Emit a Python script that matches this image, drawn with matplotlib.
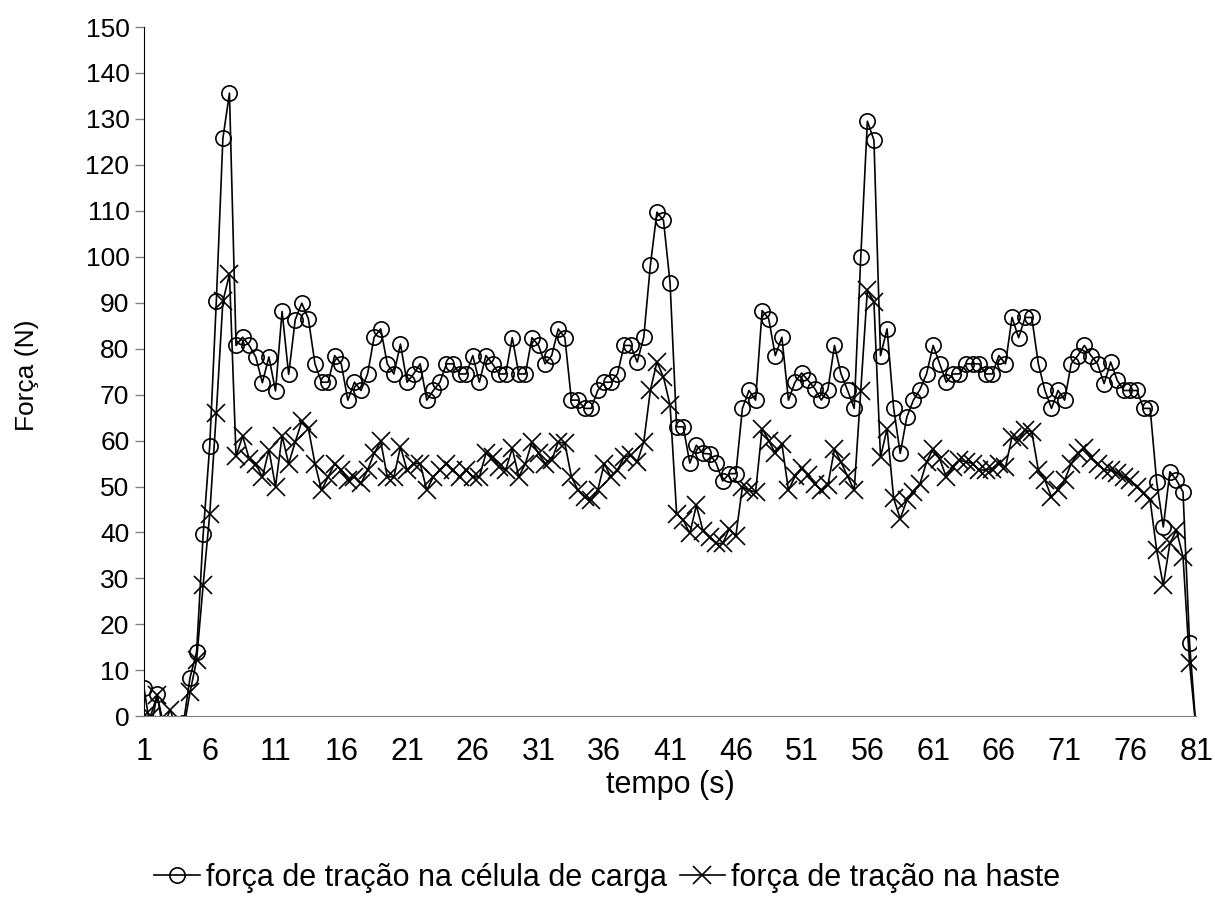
import matplotlib.pyplot as plt
import numpy as np

plt.rcParams['font.family'] = ['Liberation Sans', 'DejaVu Sans']

# tempo (s): 1 to 81 in steps of 0.5 s, shown on a category axis
tempo = [1 + 0.5 * k for k in range(161)]

# força de tração na célula de carga (N)
celula = [6.2, -3, 4.75, -4, -5, -4, -1.5, 8.4, 14, 39.6,
          58.9, 90.3, 125.8, 135.6, 80.7, 82.5, 80.7, 78.2, 72.6, 78.2,
          70.8, 88.1, 74.4, 86.3, 89.9, 86.5, 76.7, 72.7, 72.7, 78.5,
          76.7, 68.8, 72.7, 70.9, 74.5, 82.5, 84.3, 76.7, 74.5, 81,
          72.7, 74.5, 76.7, 68.8, 70.9, 72.7, 76.7, 76.7, 74.5, 74.5,
          78.5, 72.7, 78.5, 76.7, 74.5, 74.5, 82.4, 74.5, 74.5, 82.4,
          80.7, 76.7, 78.5, 84.3, 82.4, 68.8, 68.8, 67, 67, 70.9,
          72.7, 72.7, 74.5, 80.7, 80.7, 77.1, 82.5, 98.1, 109.7, 107.9,
          94.3, 63, 63, 55.1, 59, 57.2, 57.1, 55.1, 51.2, 52.8,
          52.8, 67, 70.9, 68.8, 88.3, 86.5, 78.5, 82.5, 68.8, 72.7,
          74.7, 73.1, 71.3, 68.8, 71.1, 80.7, 74.5, 70.9, 67, 100,
          129.5, 125.4, 78.5, 84.3, 67, 57.2, 65.1, 68.8, 71.1, 74.5,
          80.7, 76.7, 72.7, 74.5, 74.5, 76.7, 76.7, 76.7, 74.5, 74.5,
          78.5, 76.7, 86.8, 82.4, 86.8, 86.8, 76.7, 70.9, 67, 70.9,
          68.8, 76.7, 78.5, 80.7, 78.5, 76.7, 72.4, 77.1, 73.1, 70.9,
          70.9, 70.9, 67, 67, 51, 41.2, 53.2, 51.4, 48.8, 15.9,
          -3]

# força de tração na haste (N)
haste = [0, 0, 4.6, -2, 1.4, -3, -3, 5.2, 12.2, 28.6,
         44, 66, 90.3, 96.2, 56.6, 61, 56, 55, 52, 58,
         50, 61, 55, 59.7, 64.2, 62.6, 55, 49.2, 52.1, 55,
         53.6, 51.4, 52.1, 50.7, 53.6, 57.2, 59.8, 52.1, 52.1, 58.6,
         53.6, 55, 55, 49.2, 52.1, 53.6, 55, 53.6, 52.1, 53.6,
         52.1, 52.1, 57.2, 56.4, 54.3, 53.6, 58.3, 52.1, 55, 59.7,
         57.2, 55, 55.7, 59.7, 59.4, 52.1, 49.2, 47.7, 47, 49.2,
         55, 52.1, 53.6, 56.4, 56.8, 55.3, 59.7, 70.9, 77.1, 73.8,
         67.7, 44.1, 42.7, 39.8, 45.9, 40.4, 39, 37.6, 37.6, 40.8,
         39.3, 49.9, 49.2, 48.8, 62.6, 60, 57.2, 59.3, 49.2, 52.2,
         54, 52.5, 50.6, 49.2, 50.3, 58.2, 55.3, 52.2, 49.2, 70.8,
         92.7, 90.2, 56.4, 62.6, 47.4, 43, 47, 48.8, 50.6, 55.3,
         58.2, 56, 52.1, 54.2, 55.7, 55.4, 55, 53.6, 53.6, 53.9,
         55, 54.2, 60.8, 60.1, 62.3, 61.9, 53.6, 51.4, 47.7, 49.2,
         51.4, 55, 57.2, 58.3, 56.1, 55, 53.6, 53.6, 52.9, 52.1,
         51.4, 49.9, 48.5, 47, 36.1, 28.5, 37.6, 40.5, 34.7, 11.5,
         -3]

x = np.arange(len(tempo))

fig = plt.figure(figsize=(12.15, 9.19), dpi=100)
ax = fig.add_axes([0.1185, 0.2206, 0.866, 0.75])

ax.plot(x, celula, color='black', lw=1.2, marker='o', ms=11,
        mfc='none', mec='black', mew=1.2,
        label='força de tração na célula de carga')
ax.plot(x, haste, color='black', lw=1.2, marker='x', ms=13,
        mec='black', mew=1.2, label='força de tração na haste')

ax.set_xlim(0, len(tempo) - 1)
ax.set_ylim(0, 150)
ax.set_yticks(range(0, 151, 10))

# category labels every 10 points, tick marks only every 100
ax.set_xticks(x[::10])
ax.set_xticklabels([f'{t:g}' for t in tempo[::10]])
ax.set_xticks([0, 100], minor=True)
ax.tick_params(axis='x', which='major', length=0, pad=15, labelsize=22)
ax.tick_params(axis='x', which='minor', length=6.5, width=1, color='#808080')
ax.tick_params(axis='y', length=6.5, width=1, color='#808080', pad=4, labelsize=19)

for s in ['top', 'right']:
    ax.spines[s].set_visible(False)
ax.spines['bottom'].set_color('#808080')
ax.spines['left'].set_color('black')

ax.set_xlabel('tempo (s)', fontsize=22)
ax.xaxis.set_label_coords(0.5, -0.078)
ax.set_ylabel('Força (N)', fontsize=19)
ax.yaxis.set_label_coords(-0.1, 0.495)

fig.legend(loc='center', bbox_to_anchor=(0.5, 0.045), ncol=2, frameon=False,
           fontsize=22, handlelength=1.5, handletextpad=0.2, columnspacing=0.4)

plt.savefig('out.png', dpi=100)
